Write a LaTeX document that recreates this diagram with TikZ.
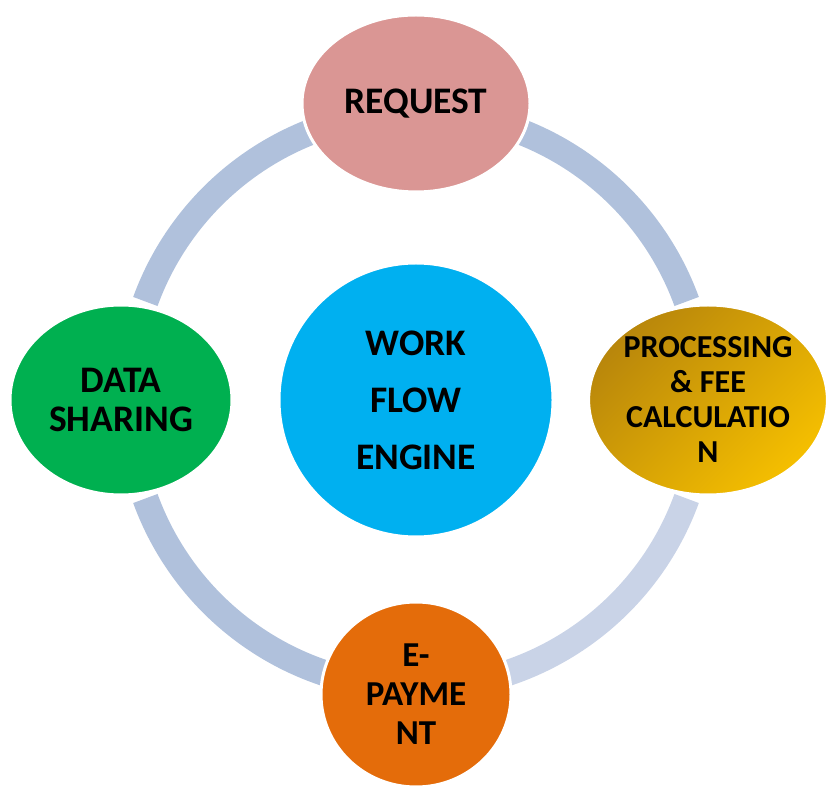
\documentclass[tikz,border=0pt]{standalone}
\usepackage{fontspec}
\setmainfont{Carlito}
\usepackage{tikz}
\usetikzlibrary{shapes.geometric,positioning}

\definecolor{ringblue}{HTML}{B0C1DC}
\definecolor{ringpale}{HTML}{C9D3E7}
\definecolor{reqpink}{HTML}{DA9694}
\definecolor{hubblue}{HTML}{00B0F0}
\definecolor{datagreen}{HTML}{00B050}
\definecolor{payorange}{HTML}{E46C0A}
\definecolor{procdark}{HTML}{B8860B}
\definecolor{procgold}{HTML}{F5BF00}

\begin{document}
\begin{tikzpicture}[x=1pt, y=1pt,
    stage/.style={ellipse, draw=white, line width=3pt, inner sep=0pt, align=center, text=black},
    ringseg/.style={draw=ringblue, line width=26pt}]
    \useasboundingbox (0,0) rectangle (826,787);
    \coordinate (o) at (416,387);

    % ring segments
    \draw[ringseg] ([shift={(20:288)}]o) arc[start angle=20, end angle=72, radius=288];
    \draw[ringseg] ([shift={(108:288)}]o) arc[start angle=108, end angle=160, radius=288];
    \draw[ringseg] ([shift={(200:288)}]o) arc[start angle=200, end angle=253, radius=288];
    \draw[ringseg, draw=ringpale] ([shift={(287:288)}]o) arc[start angle=287, end angle=340, radius=288];

    % stages
    \node[stage, fill=hubblue, minimum width=274pt, minimum height=274pt,
          font=\fontsize{37.5}{57}\selectfont\bfseries] (hub) at (o) {WORK\\FLOW\\ENGINE};
    \node[stage, fill=reqpink, minimum width=228pt, minimum height=177pt,
          font=\fontsize{37.5}{40}\selectfont\bfseries] (req) at (416,683.5) {REQUEST};
    \node[stage, top color=procdark, bottom color=procgold, shading angle=45,
          minimum width=238pt, minimum height=190pt,
          font=\fontsize{32}{35}\selectfont\bfseries] (proc) at (708,387) {PROCESSING\\\& FEE\\CALCULATIO\\N};
    \node[stage, fill=payorange, minimum width=190pt, minimum height=185pt,
          font=\fontsize{35}{39}\selectfont\bfseries] (pay) at (416,92.5) {E-\\PAYME\\NT};
    \node[stage, fill=datagreen, minimum width=222pt, minimum height=190pt,
          font=\fontsize{37.5}{39}\selectfont\bfseries] (data) at (121,387) {DATA\\SHARING};
\end{tikzpicture}
\end{document}
